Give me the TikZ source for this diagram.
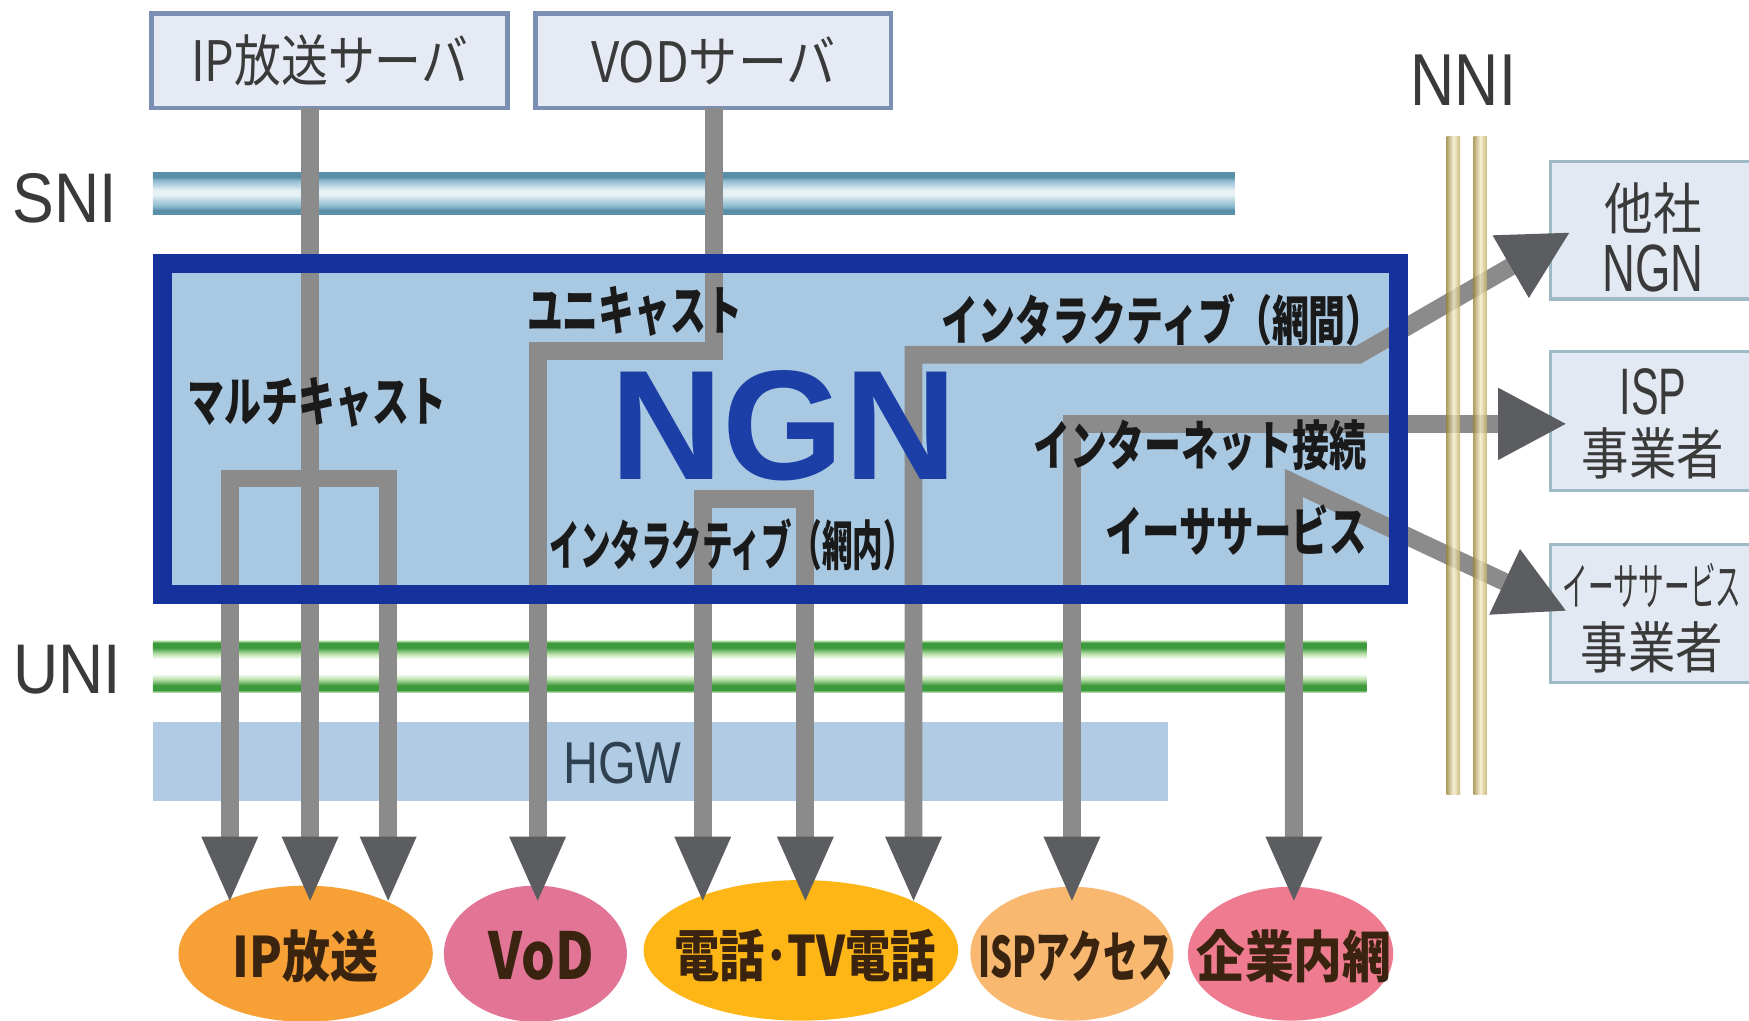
\documentclass[tikz,border=0pt]{standalone}
\usepackage{graphicx}
\usepackage{fontspec}
\newfontfamily\jp{Noto Sans CJK JP}
\newfontfamily\ar{Liberation Sans}
\usetikzlibrary{shapes.geometric,arrows.meta,calc}

\definecolor{gline}{HTML}{8B8B8B}
\definecolor{ghead}{HTML}{5B5D61}
\definecolor{ngnfill}{HTML}{A9C8E2}
\definecolor{ngnblue}{HTML}{15329C}
\definecolor{ngntext}{HTML}{1B3FA6}
\definecolor{hgwfill}{HTML}{B0CBE3}
\definecolor{hgwtext}{HTML}{2F4050}
\definecolor{srvfill}{HTML}{E6EAF4}
\definecolor{srvline}{HTML}{7B8FB3}
\definecolor{rfill}{HTML}{E3E9F2}
\definecolor{rline}{HTML}{9DBAC6}
\definecolor{eorange}{HTML}{F6A035}
\definecolor{epink}{HTML}{E27596}
\definecolor{egold}{HTML}{FDB616}
\definecolor{elorange}{HTML}{F8B870}
\definecolor{ered}{HTML}{EE7B8F}
\definecolor{etext}{HTML}{3A2410}
\definecolor{labgray}{HTML}{3A3A3A}
\definecolor{labblack}{HTML}{1A1A1A}
\definecolor{sniD}{HTML}{5A8FAA}
\definecolor{sniM}{HTML}{8DBAD0}
\definecolor{sniL}{HTML}{B9D5E3}
\definecolor{sniW}{HTML}{E6F0F5}
\definecolor{ugreen}{HTML}{3D9A3B}
\definecolor{upale}{HTML}{BCE2AD}
\definecolor{uhalo}{HTML}{D4ECCB}
\definecolor{nniD}{HTML}{A08A40}
\definecolor{nniL}{HTML}{F4EDCC}
\definecolor{nniR}{HTML}{C0A75A}

\pgfdeclareverticalshading{snishade}{100bp}{color(0bp)=(sniD); color(25bp)=(sniD); color(30bp)=(sniD); color(35bp)=(sniM); color(42bp)=(sniL); color(48bp)=(sniW); color(54bp)=(sniW); color(60bp)=(sniL); color(66bp)=(sniM); color(70bp)=(sniD); color(75bp)=(sniD); color(100bp)=(sniD)}
\pgfdeclareverticalshading{unishade}{100bp}{color(0bp)=(uhalo); color(25bp)=(uhalo); color(27.5bp)=(ugreen); color(32bp)=(ugreen); color(38bp)=(upale); color(43bp)=(white); color(57bp)=(white); color(62bp)=(upale); color(68bp)=(ugreen); color(72.5bp)=(ugreen); color(75bp)=(uhalo); color(100bp)=(uhalo)}

\newcommand{\tx}[3]{\fontsize{#1}{#1}\selectfont\scalebox{#2}[1]{#3}}

\tikzset{
  gl/.style={draw=gline, line width=16pt, line join=miter},
  vh/.tip={Triangle[width=46pt,length=60pt,color=ghead,fill=ghead]},
  hh/.tip={Triangle[width=60pt,length=62pt,color=ghead,fill=ghead]},
  srv/.style={draw=srvline, line width=4pt, fill=srvfill, inner sep=0pt, font=\jp, text=labgray},
  rbx/.style={draw=rline, line width=3pt, fill=rfill, inner sep=0pt},
  rtx/.style={inner sep=0pt, font=\jp, text=labgray},
  rtl/.style={inner sep=0pt, font=\ar, text=labgray},
  ltx/.style={inner sep=0pt, font=\ar, text=labgray},
  lab/.style={inner sep=0pt, font=\jp\bfseries, text=labblack},
  ell/.style={ellipse, inner sep=0pt},
  etx/.style={inner sep=0pt, font=\jp\bfseries, text=etext},
}

\begin{document}
\begin{tikzpicture}[x=1pt,y=-1pt]
\clip (0,0) rectangle (1568,915);
\fill[white] (0,0) rectangle (1568,915);

% bars
\shade[shading=snishade] (137,155) rectangle (1107,192);
\fill[hgwfill] (137,647) rectangle (1047,718);
\shade[shading=unishade] (137,574) rectangle (1225,621);

% NGN area
\node[fill=ngnfill, minimum width=1125pt, minimum height=313pt, inner sep=0pt] (ngn) at (699.5,384.5) {};

% servers
\node[srv, minimum width=319pt, minimum height=85pt] (ipsrv) at (295.5,54.5) {\tx{50}{0.84}{IP放送サーバ}};
\node[srv, minimum width=319pt, minimum height=85pt] (vodsrv) at (639.5,54.5) {\tx{50}{0.88}{VODサーバ}};

% right boxes
\node[rbx, minimum width=185pt, minimum height=123pt] (oth) at (1482.5,206.5) {};
\node[rbx, minimum width=185pt, minimum height=125pt] (isp) at (1482.5,377.5) {};
\node[rbx, minimum width=185pt, minimum height=124pt] (eth) at (1482.5,550) {};

% ellipses
\node[ell, fill=eorange, minimum width=228pt, minimum height=122pt] (eip) at (274,855) {};
\node[ell, fill=epink, minimum width=164pt, minimum height=122pt] (evod) at (480,855) {};
\node[ell, fill=egold, minimum width=282pt, minimum height=126pt] (etel) at (718,852) {};
\node[ell, fill=elorange, minimum width=182pt, minimum height=120pt] (eisp) at (961,855) {};
\node[ell, fill=ered, minimum width=184pt, minimum height=120pt] (ecorp) at (1157,855) {};

% connector points
\coordinate (ipo) at (278,97);
\coordinate (ipt) at (278,810);
\coordinate (mcl) at (206,429);
\coordinate (mcr) at (348,429);
\coordinate (mclt) at (206,810);
\coordinate (mcrt) at (348,810);
\coordinate (vodo) at (640,97);
\coordinate (uc1) at (640,315);
\coordinate (uc2) at (482,315);
\coordinate (vodt) at (482,810);
\coordinate (in1) at (630,447);
\coordinate (in2) at (722,447);
\coordinate (in1t) at (630,810);
\coordinate (in2t) at (722,810);
\coordinate (nw1) at (819,318);
\coordinate (nw2) at (1218,318);
\coordinate (nwt) at (819,810);
\coordinate (othtip) at (1408,208);
\coordinate (it1) at (961,380);
\coordinate (itt) at (961,810);
\coordinate (isptip) at (1405,380);
\coordinate (es1) at (1160,433);
\coordinate (est) at (1160,810);
\coordinate (ethtip) at (1405,548);

% connectors
\draw[gl, -vh] (ipo) -- (ipt);
\draw[gl, vh-vh] (mclt) -- (mcl) -- (mcr) -- (mcrt);
\draw[gl, -vh] (vodo) -- (uc1) -- (uc2) -- (vodt);
\draw[gl, vh-vh] (in1t) -- (in1) -- (in2) -- (in2t);
\draw[gl, hh-vh] (othtip) -- (nw2) -- (nw1) -- (nwt);
\draw[gl, hh-vh] (isptip) -- (it1) -- (itt);
\draw[gl, hh-vh] (ethtip) -- (es1) -- (est);

% NGN border
\draw[line width=17pt, ngnblue] ([shift={(8.5,8.5)}]ngn.north west) rectangle ([shift={(-8.5,-8.5)}]ngn.south east);

% NNI lines
\shade[left color=nniD, right color=nniR, middle color=nniL, opacity=0.8] (1297,122) rectangle (1309,712);
\shade[left color=nniD, right color=nniR, middle color=nniL, opacity=0.8] (1321,122) rectangle (1333,712);

% ellipse texts
\node[etx] (teip) at (274,857) {\tx{50}{0.86}{IP放送}};
\node[etx] (tevod) at (485,857) {\tx{58}{0.82}{VoD}};
\node[etx] (tetel) at (722,857) {\tx{50}{0.81}{電話･TV電話}};
\node[etx] (teisp) at (964,857) {\tx{50}{0.62}{ISPアクセス}};
\node[etx] (tecorp) at (1160,857) {\tx{50}{0.875}{企業内網}};

% labels
\node[ltx] (lsni) at (58,178) {\tx{63}{0.89}{SNI}};
\node[ltx] (lnni) at (1312,72) {\tx{66}{0.83}{NNI}};
\node[ltx] (luni) at (60,600) {\tx{63}{0.89}{UNI}};
\node[ltx, text=hgwtext] (lhgw) at (558,684) {\tx{53}{0.82}{HGW}};

\node[inner sep=0pt, font=\ar\bfseries, text=ngntext] (ngnlabel) at (702.5,382) {\tx{140}{1}{NGN}};

\node[lab] (lmc) at (284,361) {\tx{48}{0.69}{マルチキャスト}};
\node[lab] (luc) at (569,279) {\tx{48}{0.67}{ユニキャスト}};
\node[lab] (lnw) at (1042,287) {\tx{48}{0.69}{インタラクティブ（網間）}};
\node[lab] (lit) at (1076,399) {\tx{48}{0.69}{インターネット接続}};
\node[lab] (les) at (1108,475) {\tx{48}{0.70}{イーササービス}};
\node[lab] (lnn) at (656,488) {\tx{48}{0.57}{インタラクティブ（網内）}};

\node[rtx] (t1) at (1482,187) {\tx{50}{0.87}{他社}};
\node[rtl] (t2) at (1482,241) {\tx{60}{0.68}{NGN}};
\node[rtl] (t3) at (1482,351) {\tx{59}{0.63}{ISP}};
\node[rtx] (t4) at (1482,406) {\tx{50}{0.85}{事業者}};
\node[rtx] (t5) at (1481,525) {\tx{46}{0.5}{イーササービス}};
\node[rtx] (t6) at (1481,580) {\tx{50}{0.85}{事業者}};
\end{tikzpicture}
\end{document}
